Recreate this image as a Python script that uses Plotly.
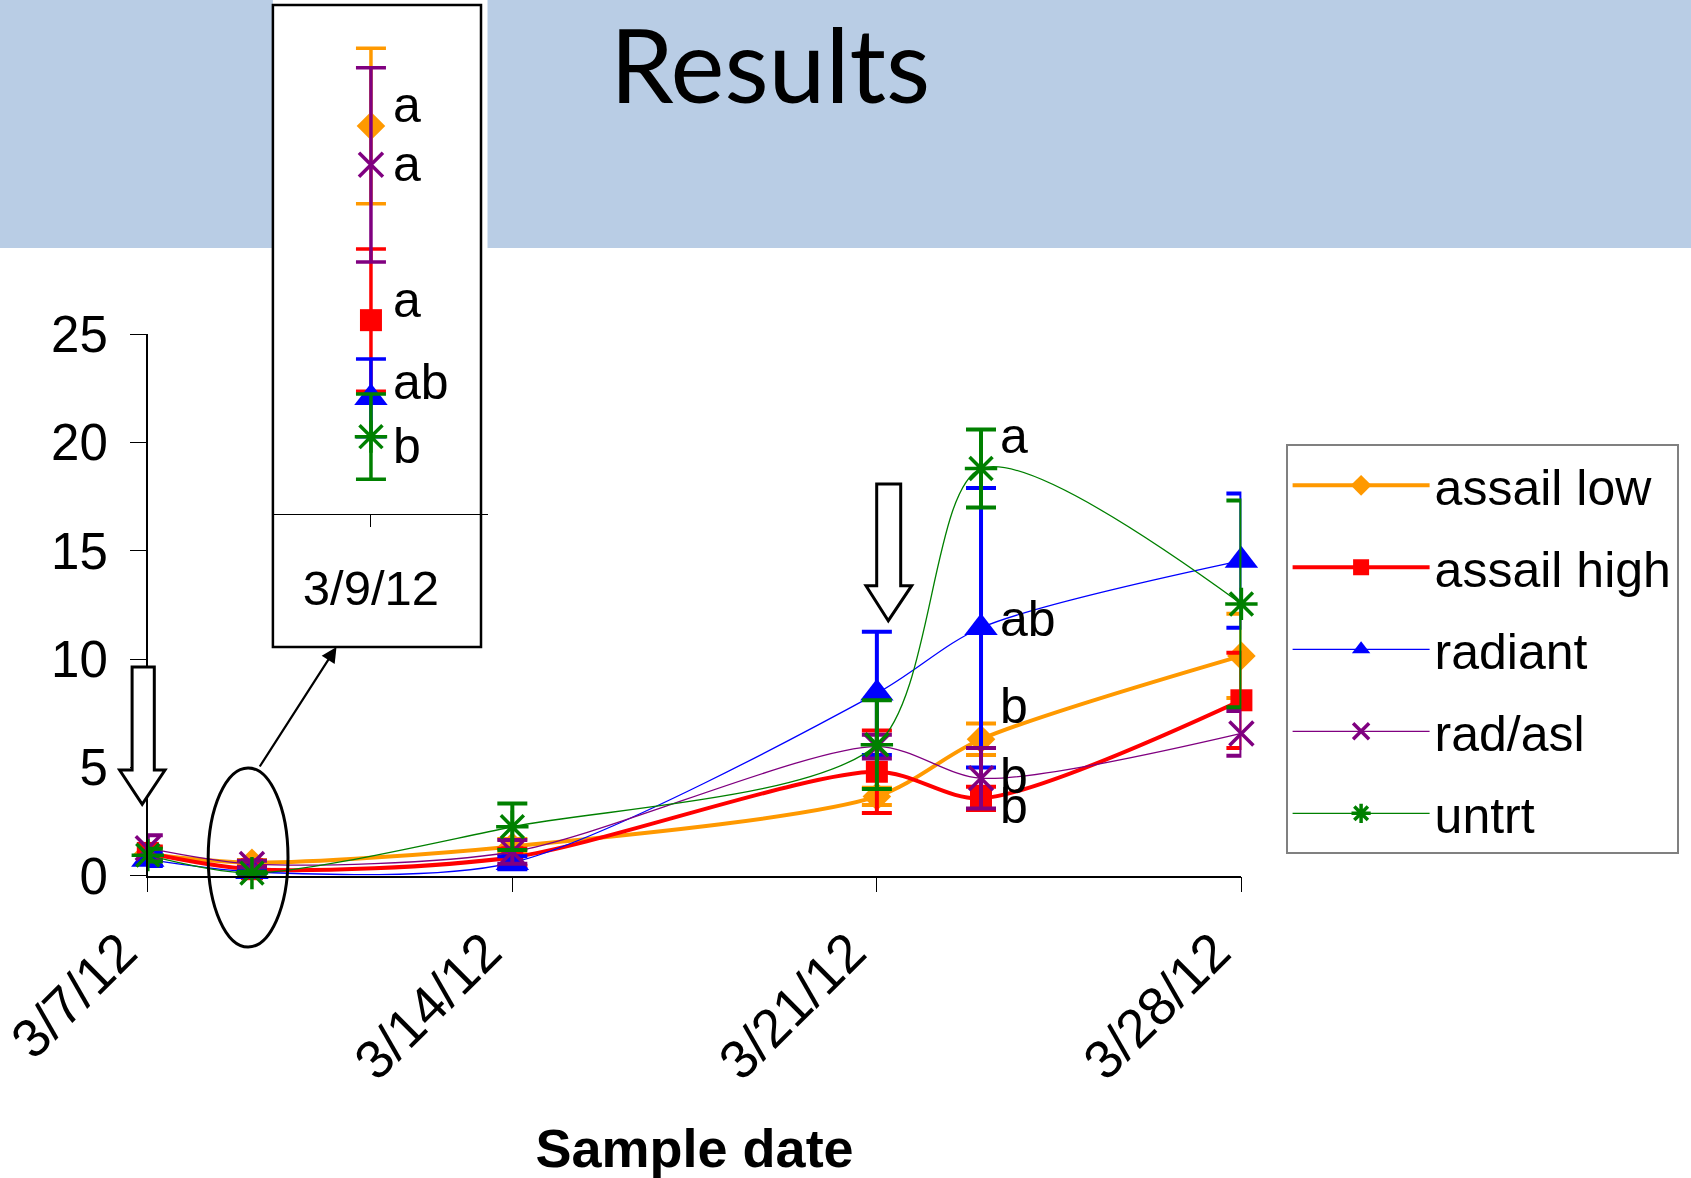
import plotly.graph_objects as go

W, H = 1691, 1178

# ---------------- data ----------------
dates = ['2012-03-07', '2012-03-09', '2012-03-14', '2012-03-21', '2012-03-23', '2012-03-28']
tick_dates = ['2012-03-07', '2012-03-14', '2012-03-21', '2012-03-28']
inset_date = '2012-03-09'

assail_low = [1.0, 0.60, 1.35, 3.66, 6.3, 10.15]
assail_low_err = [0.3, 0.12, 0.35, 0.40, 0.73, 1.95]
assail_high = [1.05, 0.30, 0.85, 4.8, 3.57, 8.1]
assail_high_err = [0.3, 0.11, 0.40, 1.9, 0.54, 2.2]
radiant = [0.75, 0.18, 0.6, 8.42, 11.45, 14.55]
radiant_err = [0.3, 0.06, 0.30, 2.85, 6.45, 3.1]
rad_asl = [1.27, 0.54, 1.1, 5.96, 4.5, 6.57]
rad_asl_err = [0.6, 0.15, 0.55, 0.55, 1.4, 1.03]
untrt = [0.95, 0.12, 2.26, 6.05, 18.8, 12.55]
untrt_err = [0.3, 0.066, 1.07, 2.05, 1.8, 4.77]

series_names = ['assail low', 'assail high', 'radiant', 'rad/asl', 'untrt']

# significance letters (3/23 in main plot, 3/9 in inset)
main_letters = ['a', 'ab', 'b', 'b', 'b']
main_letter_y = [20.31, 11.85, 7.85, 4.61, 3.23]
inset_letters = ['a', 'a', 'a', 'ab', 'b']
inset_letter_y = [0.633, 0.542, 0.331, 0.204, 0.106]

# ---------------- styles ----------------
colors = ['#FF9900', '#FF0000', '#0000FF', '#800080', '#008000']
symbols = ['diamond', 'square', 'triangle-up', 'x-thin-open', 'asterisk-open']
msizes = [22, 22, 29, 24, 27]
lwidths = [4, 4, 1.3, 1.3, 1.3]
values = [assail_low, assail_high, radiant, rad_asl, untrt]
errors = [assail_low_err, assail_high_err, radiant_err, rad_asl_err, untrt_err]

FONT = 'Liberation Sans, Arial, sans-serif'


def px(x):
    return x / W


def py(y):
    return 1 - y / H


fig = go.Figure()

for name, vals, errs, col, sym, ms, lw in zip(series_names, values, errors, colors, symbols, msizes, lwidths):
    is_open = sym.endswith('open')
    fig.add_trace(go.Scatter(
        x=dates, y=vals, name=name, mode='lines+markers',
        line=dict(color=col, width=lw, shape='spline', smoothing=0.8),
        marker=dict(symbol=sym, size=ms, color=col,
                    line=dict(color=col, width=3.5 if is_open else 0)),
        error_y=dict(type='data', array=errs, color=col, thickness=4, width=15),
        cliponaxis=False, legendgroup=name, xaxis='x', yaxis='y'))

# inset: 3/9/12 enlarged
idx = dates.index(inset_date)
for name, vals, errs, col, sym, ms in zip(series_names, values, errors, colors, symbols, msizes):
    is_open = sym.endswith('open')
    fig.add_trace(go.Scatter(
        x=[dates[idx]], y=[vals[idx]], name=name, mode='markers', showlegend=False,
        marker=dict(symbol=sym, size=ms, color=col,
                    line=dict(color=col, width=3.5 if is_open else 0)),
        error_y=dict(type='data', array=[errs[idx]], color=col, thickness=3.5, width=15),
        cliponaxis=False, legendgroup=name, xaxis='x2', yaxis='y2'))

annotations = []
for t, yv in zip(main_letters, main_letter_y):
    annotations.append(dict(x='2012-03-23', y=yv, xref='x', yref='y', text=t, showarrow=False,
                            xanchor='left', yanchor='middle', xshift=17,
                            font=dict(family=FONT, size=50, color='black')))
for t, yv in zip(inset_letters, inset_letter_y):
    annotations.append(dict(x=inset_date, y=yv, xref='x2', yref='y2', text=t, showarrow=False,
                            xanchor='left', yanchor='middle', xshift=20,
                            font=dict(family=FONT, size=50, color='black')))

annotations.append(dict(x=px(770), y=py(63), xref='paper', yref='paper', text='Results',
                        showarrow=False, xanchor='center', yanchor='middle',
                        font=dict(family='Lato, Carlito, sans-serif', size=102, color='black')))
# thin arrow from the ellipse to the inset box
annotations.append(dict(x=px(336.5), y=py(647), xref='paper', yref='paper', text='',
                        showarrow=True, ax=-77.7, ay=121, arrowhead=2, arrowsize=1.4,
                        arrowwidth=2.2, arrowcolor='black', standoff=0, startstandoff=0))


def block_arrow(x0, x1, top, hx0, hx1, hy, tipx, tipy):
    pts = [(x0, top), (x1, top), (x1, hy), (hx1, hy), (tipx, tipy), (hx0, hy), (x0, hy)]
    return 'M ' + ' L '.join(f'{px(a):.5f},{py(b):.5f}' for a, b in pts) + ' Z'


shapes = [
    # banner
    dict(type='rect', xref='paper', yref='paper', x0=0, x1=1, y0=py(248), y1=1,
         fillcolor='#B9CDE5', line=dict(width=0), layer='below'),
    dict(type='rect', xref='paper', yref='paper', x0=px(272.9), x1=px(487.5), y0=py(248), y1=1,
         fillcolor='white', line=dict(width=0), layer='below'),
    # inset box
    dict(type='rect', xref='paper', yref='paper', x0=px(272.9), x1=px(481), y0=py(647), y1=py(5),
         fillcolor='white', line=dict(color='black', width=2.5), layer='below'),
    # ellipse around 3/9
    dict(type='circle', xref='paper', yref='paper', x0=px(208.2), x1=px(288), y0=py(947), y1=py(767.9),
         line=dict(color='black', width=3), layer='above'),
    # block arrows
    dict(type='path', xref='paper', yref='paper',
         path=block_arrow(132.1, 154.3, 667, 119.6, 165, 770, 142.2, 804.4),
         fillcolor='white', line=dict(color='black', width=3), layer='above'),
    dict(type='path', xref='paper', yref='paper',
         path=block_arrow(876.7, 900.7, 484, 866, 911.7, 585.7, 888.3, 620.7),
         fillcolor='white', line=dict(color='black', width=3), layer='above'),
]

fig.update_layout(
    template='none',
    width=W, height=H, margin=dict(l=0, r=0, t=0, b=0, pad=0, autoexpand=False),
    paper_bgcolor='white', plot_bgcolor='rgba(0,0,0,0)',
    font=dict(family=FONT, color='black'),
    showlegend=True,
    xaxis=dict(domain=[px(147.8), px(1241.4)], anchor='y', type='date', automargin=False,
               range=['2012-03-07', '2012-03-28'], tickvals=tick_dates, tickformat='%-m/%-d/%y',
               tickangle=-45, ticks='outside', ticklen=15, tickwidth=1.2, tickcolor='black',
               showline=True, linecolor='black', linewidth=1.5, showgrid=False, zeroline=False,
               ticklabelstandoff=6, ticklabelshift=-27, ticklabeloverflow='allow',
               tickfont=dict(family=FONT, size=54, color='black'),
               title=dict(text='<b>Sample date</b>', font=dict(family=FONT, size=54, color='black'),
                          standoff=46)),
    yaxis=dict(domain=[py(875.7), py(334.3)], anchor='x', range=[0, 25], dtick=5, automargin=False,
               ticks='outside', ticklen=16, tickwidth=1.2, tickcolor='black',
               showline=True, linecolor='black', linewidth=1.5, showgrid=False, zeroline=False,
               ticklabelstandoff=12,
               tickfont=dict(family=FONT, size=51, color='black')),
    xaxis2=dict(domain=[px(272.9), px(487.5)], anchor='y2', type='date', automargin=False,
                range=['2012-03-08 02:04', '2012-03-10 02:04'], tickvals=[inset_date],
                tickformat='%-m/%-d/%y', ticks='outside', ticklen=12, tickcolor='black',
                showline=True, linecolor='black', linewidth=1, showgrid=False, zeroline=False,
                ticklabelstandoff=19,
                tickfont=dict(family=FONT, size=49, color='black')),
    yaxis2=dict(domain=[py(514.3), py(5)], anchor='x2', range=[0, 0.787], visible=False,
                automargin=False),
    legend=dict(x=px(1285.6), y=py(444.3), xanchor='left', yanchor='top',
                bgcolor='white', bordercolor='#808080', borderwidth=2,
                font=dict(family=FONT, size=50, color='black'),
                tracegroupgap=14, itemwidth=137),
    annotations=annotations,
    shapes=shapes,
)

fig.write_html('out.html')
